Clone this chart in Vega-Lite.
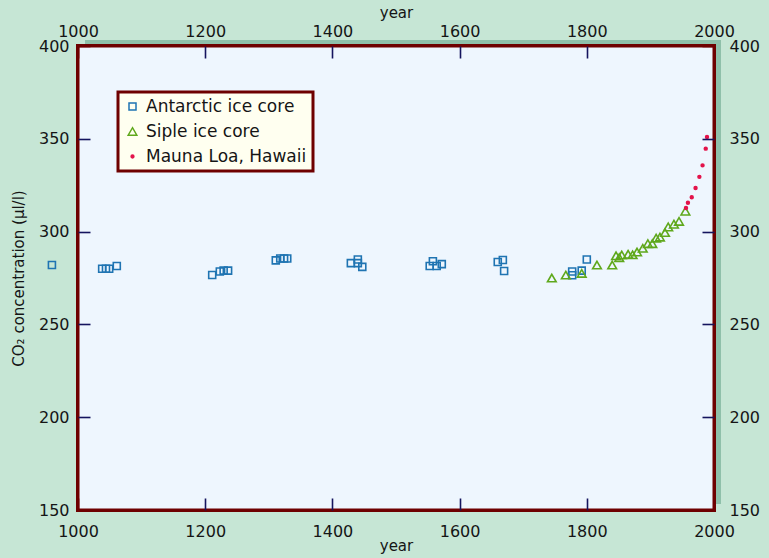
{
  "$schema": "https://vega.github.io/schema/vega-lite/v6.json",
  "width": 636,
  "height": 464,
  "autosize": {"type": "none"},
  "padding": {"left": 78, "top": 46, "right": 55, "bottom": 48},
  "background": "#c6e6d5",
  "config": {
    "view": {"stroke": null},
    "font": "DejaVu Sans",
    "axis": {
      "domain": false,
      "grid": false,
      "ticks": true,
      "tickWidth": 1.6,
      "tickSize": 12,
      "offset": -12,
      "labelFlush": false,
      "format": "d",
      "labelFont": "DejaVu Sans",
      "labelFontSize": 16,
      "labelColor": "#151515",
      "titleFont": "DejaVu Sans",
      "titleFontSize": 15,
      "titleFontWeight": "normal",
      "titleColor": "#151515",
      "zindex": 1
    },
    "legend": {
      "labelFont": "DejaVu Sans",
      "labelFontSize": 17,
      "labelColor": "#151515",
      "labelLimit": 360,
      "strokeWidth": 3
    }
  },
  "data": {
    "values": [
      {"year": 959, "co2": 282, "series": "Antarctic ice core"},
      {"year": 1038, "co2": 280, "series": "Antarctic ice core"},
      {"year": 1044, "co2": 280, "series": "Antarctic ice core"},
      {"year": 1049, "co2": 280, "series": "Antarctic ice core"},
      {"year": 1061, "co2": 281.5, "series": "Antarctic ice core"},
      {"year": 1211, "co2": 276.6, "series": "Antarctic ice core"},
      {"year": 1223, "co2": 278.5, "series": "Antarctic ice core"},
      {"year": 1229, "co2": 279, "series": "Antarctic ice core"},
      {"year": 1236, "co2": 279, "series": "Antarctic ice core"},
      {"year": 1311, "co2": 284.5, "series": "Antarctic ice core"},
      {"year": 1318, "co2": 285.5, "series": "Antarctic ice core"},
      {"year": 1324, "co2": 285.5, "series": "Antarctic ice core"},
      {"year": 1329, "co2": 285.5, "series": "Antarctic ice core"},
      {"year": 1429, "co2": 283, "series": "Antarctic ice core"},
      {"year": 1440, "co2": 285, "series": "Antarctic ice core"},
      {"year": 1440, "co2": 283, "series": "Antarctic ice core"},
      {"year": 1447, "co2": 281, "series": "Antarctic ice core"},
      {"year": 1553, "co2": 281.5, "series": "Antarctic ice core"},
      {"year": 1558, "co2": 284, "series": "Antarctic ice core"},
      {"year": 1564, "co2": 281.5, "series": "Antarctic ice core"},
      {"year": 1572, "co2": 282.5, "series": "Antarctic ice core"},
      {"year": 1660, "co2": 283.6, "series": "Antarctic ice core"},
      {"year": 1668, "co2": 284.7, "series": "Antarctic ice core"},
      {"year": 1670, "co2": 278.8, "series": "Antarctic ice core"},
      {"year": 1777, "co2": 278.5, "series": "Antarctic ice core"},
      {"year": 1777, "co2": 276.5, "series": "Antarctic ice core"},
      {"year": 1792, "co2": 279, "series": "Antarctic ice core"},
      {"year": 1800, "co2": 285, "series": "Antarctic ice core"},
      {"year": 1745, "co2": 275, "series": "Siple ice core"},
      {"year": 1767, "co2": 276.6, "series": "Siple ice core"},
      {"year": 1792, "co2": 277.5, "series": "Siple ice core"},
      {"year": 1816, "co2": 282, "series": "Siple ice core"},
      {"year": 1840, "co2": 282, "series": "Siple ice core"},
      {"year": 1846, "co2": 287, "series": "Siple ice core"},
      {"year": 1851, "co2": 286, "series": "Siple ice core"},
      {"year": 1855, "co2": 287.4, "series": "Siple ice core"},
      {"year": 1865, "co2": 287.8, "series": "Siple ice core"},
      {"year": 1872, "co2": 287.5, "series": "Siple ice core"},
      {"year": 1879, "co2": 289, "series": "Siple ice core"},
      {"year": 1888, "co2": 291, "series": "Siple ice core"},
      {"year": 1896, "co2": 293.5, "series": "Siple ice core"},
      {"year": 1903, "co2": 293.5, "series": "Siple ice core"},
      {"year": 1909, "co2": 296.5, "series": "Siple ice core"},
      {"year": 1915, "co2": 297, "series": "Siple ice core"},
      {"year": 1923, "co2": 299.5, "series": "Siple ice core"},
      {"year": 1928, "co2": 302.5, "series": "Siple ice core"},
      {"year": 1937, "co2": 304, "series": "Siple ice core"},
      {"year": 1945, "co2": 305.5, "series": "Siple ice core"},
      {"year": 1955, "co2": 311, "series": "Siple ice core"},
      {"year": 1956, "co2": 312.7, "series": "Mauna Loa, Hawaii"},
      {"year": 1959, "co2": 315.5, "series": "Mauna Loa, Hawaii"},
      {"year": 1965, "co2": 318.5, "series": "Mauna Loa, Hawaii"},
      {"year": 1971, "co2": 323.5, "series": "Mauna Loa, Hawaii"},
      {"year": 1977, "co2": 329.5, "series": "Mauna Loa, Hawaii"},
      {"year": 1982, "co2": 335.7, "series": "Mauna Loa, Hawaii"},
      {"year": 1987, "co2": 344.7, "series": "Mauna Loa, Hawaii"},
      {"year": 1989, "co2": 351, "series": "Mauna Loa, Hawaii"}
    ]
  },
  "layer": [
    {
      "mark": {"type": "rect", "color": "#8fc0aa", "xOffset": 7, "x2Offset": 7, "yOffset": -6, "y2Offset": -6},
      "encoding": {
        "x": {"datum": 1000, "type": "quantitative",
          "scale": {"domain": [1000, 2000], "nice": false, "zero": false},
          "axis": {"orient": "bottom", "title": "year", "zindex": 2, "values": [1000, 1200, 1400, 1600, 1800, 2000], "labelPadding": 13, "titlePadding": -1,
            "tickColor": {"condition": {"test": "datum.value == 1000 || datum.value == 2000", "value": "#6e0000"}, "value": "#14145e"}}},
        "x2": {"datum": 2000},
        "y": {"datum": 150, "type": "quantitative",
          "scale": {"domain": [150, 400], "nice": false, "zero": false},
          "axis": {"orient": "left", "title": "CO₂ concentration (µl/l)", "zindex": 2, "values": [150, 200, 250, 300, 350, 400], "labelPadding": 9, "titlePadding": 12,
            "tickColor": {"condition": {"test": "datum.value == 150 || datum.value == 400", "value": "#6e0000"}, "value": "#14145e"}}},
        "y2": {"datum": 400}
      }
    },
    {
      "mark": {"type": "rect", "fill": "#eef6fe", "stroke": "#6e0000", "strokeWidth": 3},
      "encoding": {
        "x": {"datum": 1000, "type": "quantitative",
          "scale": {"domain": [1000, 2000], "nice": false, "zero": false},
          "axis": {"orient": "top", "title": "year", "zindex": 2, "values": [1000, 1200, 1400, 1600, 1800, 2000], "labelPadding": 7, "titlePadding": 3,
            "tickColor": {"condition": {"test": "datum.value == 1000 || datum.value == 2000", "value": "#6e0000"}, "value": "#14145e"}}},
        "x2": {"datum": 2000},
        "y": {"datum": 150, "type": "quantitative",
          "scale": {"domain": [150, 400], "nice": false, "zero": false},
          "axis": {"orient": "right", "title": null, "zindex": 2, "values": [150, 200, 250, 300, 350, 400], "labelPadding": 15,
            "tickColor": {"condition": {"test": "datum.value == 150 || datum.value == 400", "value": "#6e0000"}, "value": "#14145e"}}},
        "y2": {"datum": 400}
      }
    },
    {
      "mark": {"type": "point", "filled": false, "strokeWidth": 1.6, "opacity": 1},
      "encoding": {
        "x": {"field": "year", "type": "quantitative", "axis": null,
          "scale": {"domain": [1000, 2000], "nice": false, "zero": false}},
        "y": {"field": "co2", "type": "quantitative", "axis": null,
          "scale": {"domain": [150, 400], "nice": false, "zero": false}},
        "color": {"field": "series", "type": "nominal",
          "scale": {"domain": ["Antarctic ice core", "Siple ice core", "Mauna Loa, Hawaii"], "range": ["#1f74b2", "#5fa81c", "#e3134a"]},
          "legend": {"title": null, "orient": "none", "legendX": 40, "legendY": 46, "fillColor": "#fffff0", "strokeColor": "#6e0000", "padding": 6, "symbolOffset": 0, "rowPadding": 7, "labelOffset": 5, "labelLimit": 360, "labelExpr": "datum.label + '                     '"}},
        "fill": {"field": "series", "type": "nominal",
          "scale": {"domain": ["Antarctic ice core", "Siple ice core", "Mauna Loa, Hawaii"], "range": ["transparent", "transparent", "#e3134a"]},
          "legend": {"title": null, "orient": "none", "legendX": 40, "legendY": 46, "fillColor": "#fffff0", "strokeColor": "#6e0000", "padding": 6, "symbolOffset": 0, "rowPadding": 7, "labelOffset": 5, "labelLimit": 360, "labelExpr": "datum.label + '                     '"}},
        "shape": {"field": "series", "type": "nominal",
          "scale": {"domain": ["Antarctic ice core", "Siple ice core", "Mauna Loa, Hawaii"], "range": ["square", "triangle-up", "circle"]}},
        "size": {"field": "series", "type": "nominal",
          "scale": {"type": "ordinal", "domain": ["Antarctic ice core", "Siple ice core", "Mauna Loa, Hawaii"], "range": [49, 75, 8]}}
      }
    }
  ],
  "resolve": {"axis": {"x": "independent", "y": "independent"}}
}
